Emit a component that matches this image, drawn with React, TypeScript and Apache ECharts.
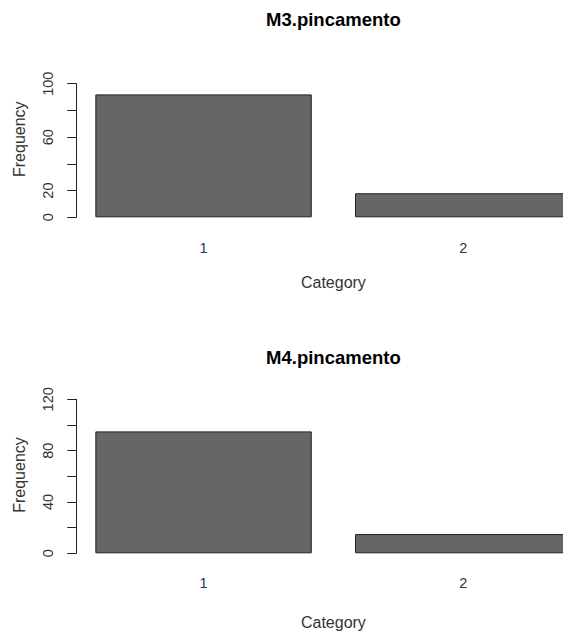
import React, { useEffect, useRef } from "react";
import * as echarts from "echarts";

// Frequency tables for the two variables
const categories = ["1", "2"];
const m3Values = [92, 18];
const m4Values = [95, 15];

// Y-axis setup for each panel
const m3Max = 100;
const m4Max = 120;
const yInterval = 20;
const m3ShownLabels = [0, 20, 60, 100];
const m4ShownLabels = [0, 40, 80, 120];

const titles = ["M3.pincamento", "M4.pincamento"];
const xName = "Category";
const yName = "Frequency";

const FONT = "Liberation Sans, Arial, Helvetica, sans-serif";
const BAR_FILL = "#666666";
const INK = "#222222";

export default function App() {
  const ref = useRef<HTMLDivElement>(null);

  useEffect(() => {
    if (!ref.current) return;
    const chart = echarts.init(ref.current, null, { renderer: "svg" });

    const panels = [
      { top: 83.7, height: 133.6, max: m3Max, shown: m3ShownLabels, data: m3Values, labelMargin: 30.2, nameGap: 64.7 },
      { top: 399.3, height: 154, max: m4Max, shown: m4ShownLabels, data: m4Values, labelMargin: 29.2, nameGap: 69.5 },
    ];

    // The plotting area runs past the right edge of the canvas, so the
    // second bar is cut off there.
    const grids = panels.map((p) => ({
      left: 73.7,
      top: p.top,
      width: 519.4,
      height: p.height,
      containLabel: false,
      outerBoundsMode: "none",
    }));

    const xAxes = panels.map((p, i) => ({
      type: "category" as const,
      gridIndex: i,
      data: categories,
      boundaryGap: true,
      axisLine: { show: false },
      axisTick: { show: false },
      axisLabel: {
        margin: p.labelMargin,
        fontFamily: FONT,
        fontSize: 14.5,
        verticalAlign: "middle",
        color: (_v: string, idx: number) => (idx === 0 ? "#27306e" : "#333333"),
      },
      name: xName,
      nameLocation: "middle" as const,
      nameGap: p.nameGap,
      nameTextStyle: {
        fontFamily: FONT,
        fontSize: 16,
        color: "#333333",
        verticalAlign: "middle",
      },
    }));

    const yAxes = panels.map((p, i) => ({
      type: "value" as const,
      gridIndex: i,
      min: 0,
      max: p.max,
      interval: yInterval,
      offset: -2.6,
      splitLine: { show: false },
      axisLine: { show: true, lineStyle: { color: INK, width: 1 } },
      axisTick: { show: true, length: 9, lineStyle: { color: INK, width: 1 } },
      axisLabel: {
        rotate: 90,
        margin: 28.3,
        fontFamily: FONT,
        fontSize: 14.5,
        color: "#333333",
        align: "center",
        verticalAlign: "middle",
        formatter: (v: number) => (p.shown.includes(v) ? String(v) : ""),
      },
    }));

    const series = panels.map((p, i) => ({
      type: "bar" as const,
      xAxisIndex: i,
      yAxisIndex: i,
      data: p.data,
      barCategoryGap: "16.6667%",
      itemStyle: { color: BAR_FILL, borderColor: INK, borderWidth: 1 },
    }));

    const textStyle = (size: number, bold: boolean) => ({
      fontFamily: FONT,
      fontSize: size,
      fontWeight: bold ? "bold" : "normal",
      fill: bold ? "#000000" : "#333333",
      align: "center",
      verticalAlign: "middle",
    });

    const graphic = [
      { type: "text", x: 333.4, y: 19.8, style: { text: titles[0], ...textStyle(18.5, true) } },
      { type: "text", x: 333.4, y: 357.1, style: { text: titles[1], ...textStyle(18.5, true) } },
      { type: "text", x: 19.5, y: 139.2, rotation: Math.PI / 2, style: { text: yName, ...textStyle(16, false) } },
      { type: "text", x: 19.5, y: 475, rotation: Math.PI / 2, style: { text: yName, ...textStyle(16, false) } },
    ];

    chart.setOption({
      animation: false,
      backgroundColor: "#ffffff",
      grid: grids,
      xAxis: xAxes,
      yAxis: yAxes,
      series,
      graphic,
    });

    return () => chart.dispose();
  }, []);

  return (
    <div
      ref={ref}
      style={{ position: "fixed", left: 0, top: 0, width: 563, height: 633, background: "#fff" }}
    />
  );
}
